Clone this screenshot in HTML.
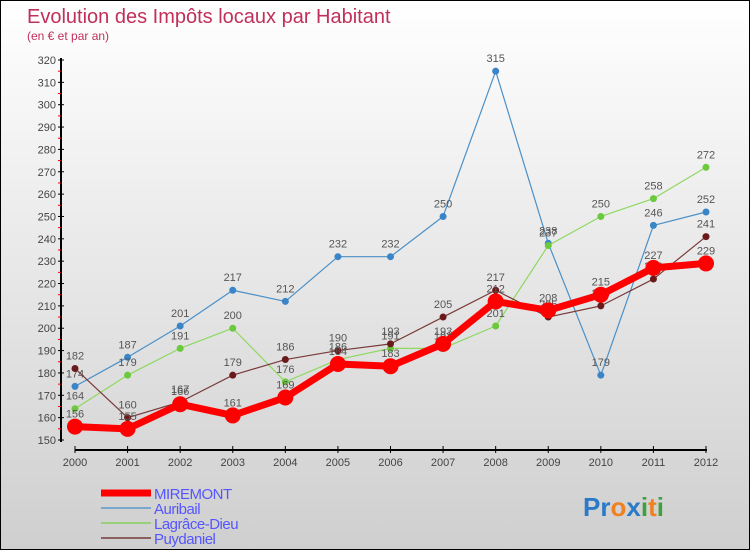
<!DOCTYPE html>
<html><head><meta charset="utf-8"><style>
body{margin:0;width:750px;height:550px;overflow:hidden;font-family:"Liberation Sans",sans-serif}
#c{position:absolute;left:0;top:0;width:748px;height:548px;border:1px solid #000;background:linear-gradient(#fff,#cfcfcf)}
</style></head><body>
<div id="c">
<svg id="s" width="748" height="548">
<text x="26" y="22" font-size="20" fill="#c0305a">Evolution des Impôts locaux par Habitant</text>
<text x="26" y="39" font-size="12" fill="#c0305a">(en € et par an)</text>
</svg></div>
<script>
const years=[2000,2001,2002,2003,2004,2005,2006,2007,2008,2009,2010,2011,2012];
const yTicks=[150,160,170,180,190,200,210,220,230,240,250,260,270,280,290,300,310,320];
const miremont=[156,155,166,161,169,184,183,193,212,208,215,227,229];
const auribail=[174,187,201,217,212,232,232,250,315,238,179,246,252];
const lagrace=[164,179,191,200,176,186,191,191,201,237,250,258,272];
const puydaniel=[182,160,167,179,186,190,193,205,217,205,210,222,241];
const seriesNames=["MIREMONT","Auribail","Lagrâce-Dieu","Puydaniel"];
const s=document.getElementById('s');const NS='http://www.w3.org/2000/svg';
function X(i){return 74+i*(705-74)/(years.length-1);}
function Y(v){return 439-(v-150)*(439-59)/170;}
function mk(t,a,p){const e=document.createElementNS(NS,t);for(const k in a)e.setAttribute(k,a[k]);(p||s).appendChild(e);return e;}
let ax=mk('line',{x1:60,y1:57,x2:60,y2:441,stroke:'#000','stroke-width':2});


let bx=mk('line',{x1:74,y1:449,x2:706,y2:449,stroke:'#000','stroke-width':2});


yTicks.forEach((v,i)=>{
 mk('line',{x1:57,y1:Y(v),x2:63,y2:Y(v),stroke:'#000'});
 if(i<yTicks.length-1)mk('line',{x1:57,y1:Y(v+5),x2:60,y2:Y(v+5),stroke:'#e00'});
 const t=mk('text',{x:55,y:Y(v)+4,'font-size':11,fill:'#444','text-anchor':'end'});t.textContent=v;
 
 
});
years.forEach((y,i)=>{
 mk('line',{x1:X(i),y1:445,x2:X(i),y2:452,stroke:'#000'});
 const t=mk('text',{x:X(i),y:465,'font-size':11,fill:'#444','text-anchor':'middle'});t.textContent=y;
 
 
});
const defs=[[auribail,'#4a90c8','#3a85c8',1.2,3.5],[lagrace,'#8ed860','#6cc83c',1.2,3.5],[puydaniel,'#7a3a3a','#6a1a1a',1.2,3.5],[miremont,'#f00','#f00',7,8]];
const order=[1,2,3,0];
defs.forEach((d,k)=>{
 const [vals,lc,pc,w,r]=d;
 const g=mk('g',{});
 
 
 mk('polyline',{points:vals.map((v,i)=>X(i)+','+Y(v)).join(' '),fill:'none',stroke:lc,'stroke-width':w,'stroke-linejoin':'round'},g);
 vals.forEach((v,i)=>{
  const c=mk('circle',{cx:X(i),cy:Y(v),r:r,fill:pc},g);
  
  
  const t=mk('text',{x:X(i),y:Y(v)-9,'font-size':11,fill:'#555','text-anchor':'middle'},g);t.textContent=v;
 });
});
const lc=[['#f00',7],['#7aa8cc',2],['#9ad07a',2],['#8a6060',2]];
seriesNames.forEach((n,i)=>{
 const yy=492+i*15;
 const l=mk('line',{x1:100,y1:yy,x2:150,y2:yy,stroke:lc[i][0],'stroke-width':lc[i][1]});
 
 
 const t=mk('text',{x:153,y:yy+6,'font-size':15,fill:'#55f','letter-spacing':'-0.5'});t.textContent=n;
 
 
});
const logo=mk('text',{x:582,y:515,'font-size':26,'font-weight':'bold'});


[['Pr','#2a7ac8'],['o','#f08020'],['x','#2a7ac8'],['i','#40a040'],['t','#f08020'],['i','#40a040']].forEach(p=>{const ts=mk('tspan',{fill:p[1]},logo);ts.textContent=p[0];});
</script>
</body></html>
